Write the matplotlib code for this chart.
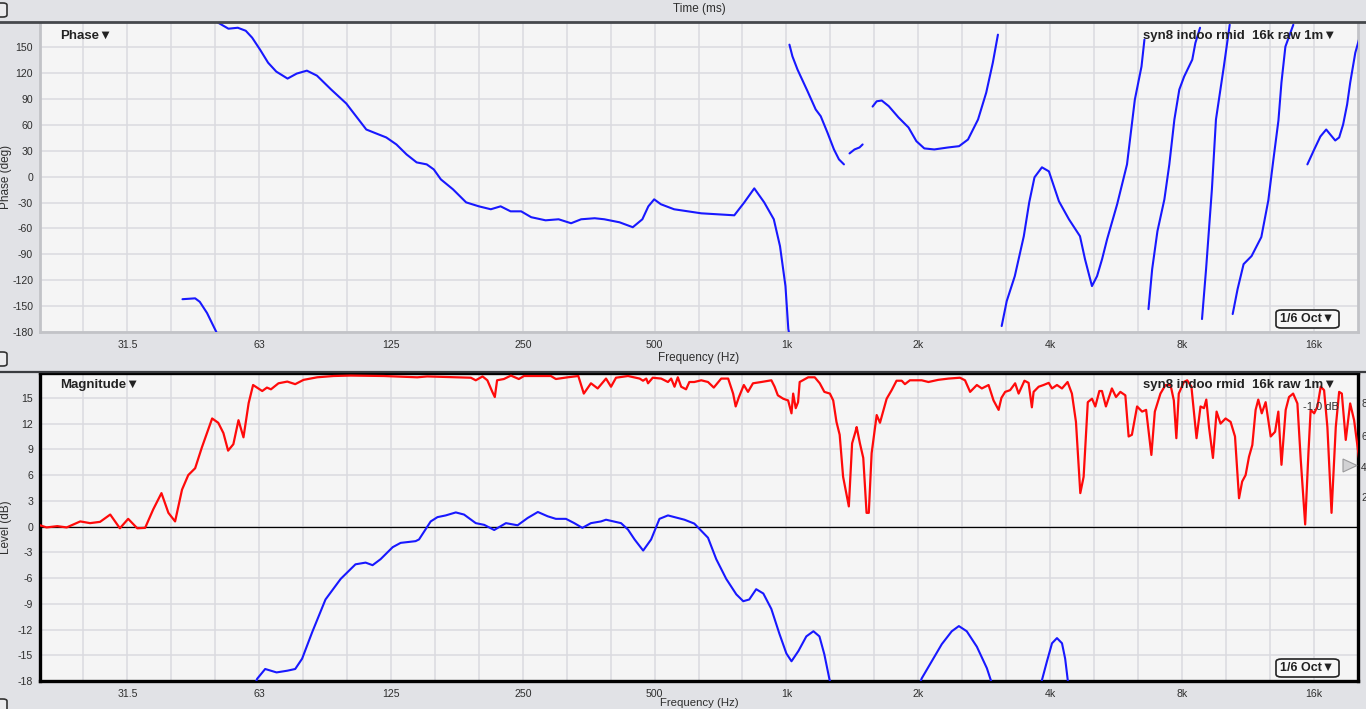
import numpy as np
import matplotlib
matplotlib.use("Agg")
import matplotlib.pyplot as plt
from matplotlib.patches import FancyBboxPatch, Polygon
from matplotlib.lines import Line2D

plt.rcParams['font.family'] = ['Liberation Sans', 'DejaVu Sans']

# ---------------- data ----------------
# Phase trace (deg), split into wrapped segments
phase_seg_freqs = [
    [42.2, 45.1, 46.2, 48.0, 49.4, 50.4],
    [50.5, 50.9, 53.7, 56.4, 58.8, 60.8, 63.4, 66.1, 69.0, 73.2, 76.8, 81.0, 85.4, 92.0,
     99.6, 102, 110.6, 116.5, 122.8, 129.5, 136.6, 144, 151.8, 157.5, 163.5, 174.2, 186.6,
     199.5, 212.4, 223.6, 235.6, 249, 262.5, 283, 303, 323.5, 341, 366, 385, 417, 447, 470,
     485, 500, 518, 555, 640, 761, 802, 845, 890, 936, 967, 995, 1010, 1013],
    [1016, 1032, 1060, 1117, 1166, 1197, 1240, 1283, 1317, 1352],
    [1392, 1429, 1467, 1491],
    [1571, 1605, 1648, 1710, 1800, 1896, 1976, 2060, 2170, 2333, 2472, 2590, 2730, 2850,
     2950, 3030],
    [3090, 3173, 3310, 3470, 3570, 3670, 3816, 3958, 4172, 4396, 4658, 4782, 4960, 5094,
     5230, 5370, 5660, 5960, 6210, 6430, 6530],
    [6670, 6800, 6990, 7250, 7440, 7640, 7840, 8040, 8390, 8530, 8740],
    [8830, 9020, 9300, 9500, 9900, 10210],
    [10370, 10640, 10980, 11450, 12050, 12500, 12830, 13180, 13390, 13670, 14250],
    [15340, 15900, 16420, 16930, 17290, 17750, 18120, 18500, 18890, 19200, 19720, 20250],
]
phase_seg_degs = [
    [-142, -141, -145, -158, -171, -180],
    [180, 178.3, 171.4, 172.5, 169, 161, 147, 132, 121.7, 113.6, 119.4, 122.8, 117, 100.9,
     84.7, 77.8, 54.6, 50, 45.4, 37.3, 25.7, 16.5, 14.2, 8.4, -3.2, -14.7, -29.8,
     -34.4, -37.8, -34.4, -40.2, -40.2, -47, -50.6, -49.4, -54, -49.4, -48.2, -49.4, -52.9,
     -58.6, -49.4, -34.4, -26.3, -32, -37.8, -42.5, -44.8, -29.8, -13.6, -29.8, -49.4,
     -80.6, -126.8, -176.5, -180],
    [152.9, 139.4, 124, 99, 77.8, 70, 51, 31.5, 20, 14.2],
    [26.9, 31.5, 33.8, 37.3],
    [81.2, 87.3, 88.2, 81.6, 68.5, 57, 41.1, 32.7, 31.5, 33.8, 35.3, 43, 66.2, 97.4, 132,
     164.5],
    [-173.1, -144.2, -115.3, -69, -29.8, -0.8, 10.8, 6.1, -28.6, -49.4, -69, -95.6, -126.8,
     -115.3, -95.6, -72.5, -32, 14.2, 89.3, 127.5, 158.7],
    [-153.5, -107.2, -63.3, -26.3, 14.2, 66.2, 100.9, 115.9, 135.5, 155, 172.5],
    [-165, -107.2, -14.7, 66.2, 127.5, 176],
    [-159.2, -130.3, -101.4, -92, -70, -27.5, 18.9, 65, 109, 150.6, 176],
    [14.2, 31.5, 46.5, 54.6, 48.9, 41.9, 45.4, 60.4, 83.5, 109, 143.6, 164.5],
]

# Magnitude, red trace (dB)
red_freq = [20.0, 20.7, 21.9, 23.0, 24.7, 26.0, 27.4, 28.9, 30.4, 31.75, 33.3, 34.7, 36.2,
            37.8, 39.2, 40.6, 42.1, 43.5, 45.1, 46.7, 49.3, 50.9, 52.3, 53.6, 55.1, 56.6,
            58.1, 59.7, 61.1, 64.1, 65.7, 67.1, 69.8, 73.1, 76.2, 79.6, 85.5, 93.1, 101.9,
            121.1, 144.5, 152.2, 191.3, 196.3, 203.4, 208.6, 214.1, 216.9, 219.5, 227.5,
            236, 246, 252.7, 291, 298.7, 317.8, 336, 345.8, 359, 371.9, 388.5, 398.8,
            409.4, 435.9, 463.4, 471.6, 479.7, 484.2, 496.3, 518.7, 537.5, 546.6, 556.3,
            566, 576, 591, 601.3, 617, 640, 663, 683.4, 710.5, 736.9, 756.3, 766.5, 779.7,
            800, 817.6, 839.2, 876.7, 924.2, 940, 956, 983.5, 1009, 1027, 1036, 1050, 1063,
            1072, 1121, 1160, 1191, 1220, 1256, 1278, 1300, 1322, 1346, 1387, 1411, 1436,
            1445, 1470, 1496, 1522, 1540, 1563, 1605, 1633, 1691, 1736, 1781, 1830, 1861,
            1910, 2032, 2105, 2215, 2338, 2483, 2550, 2619, 2713, 2785, 2885, 2961, 3041,
            3086, 3147, 3230, 3316, 3377, 3482, 3558, 3620, 3653, 3751, 3848, 3954, 4023,
            4129, 4239, 4365, 4465, 4561, 4666, 4748, 4853, 4961, 5048, 5156, 5227, 5336,
            5506, 5626, 5756, 5908, 6011, 6115, 6283, 6451, 6588, 6772, 6896, 7101, 7291,
            7488, 7618, 7719, 7818, 8030, 8170, 8353, 8580, 8762, 8922, 9031, 9160, 9351,
            9531, 9731, 9991, 10258, 10497, 10721, 10898, 11097, 11297, 11494, 11695, 11859,
            12077, 12325, 12657, 12950, 13173, 13392, 13691, 13932, 14236, 14558, 14815,
            15163, 15423, 15605, 15897, 16170, 16450, 16743, 17035, 17409, 17801, 18118,
            18374, 18757, 19195, 19596, 20130, 20302]
red_db = [0.15, -0.1, 0.05, -0.1, 0.6, 0.4, 0.55, 1.4, -0.2, 0.9, -0.2, -0.15, 2.0,
          3.9, 1.6, 0.6, 4.3, 6.0, 6.8, 9.2, 12.6, 12.1, 10.9, 8.85, 9.6, 12.4,
          10.4, 14.4, 16.5, 15.8, 16.2, 16.0, 16.7, 16.9, 16.6, 17.1, 17.4, 17.55, 17.6,
          17.55, 17.4, 17.5, 17.35, 17.05, 17.5, 17.05, 15.7, 15.1, 17.05, 17.2,
          17.6, 17.2, 17.55, 17.55, 17.2, 17.4, 17.55, 15.5, 16.7, 16.1, 17.25, 16.3,
          17.35, 17.55, 17.25, 17.0, 17.25, 16.7, 17.35, 17.25, 16.85, 17.25, 16.3,
          17.4, 16.3, 16.0, 16.85, 16.85, 17.05, 16.85, 16.2, 17.25, 17.25, 15.5, 14.0, 15.1,
          16.5, 15.7, 16.7, 16.85, 17.05, 16.3, 15.3, 14.9, 14.7, 13.2, 15.5, 13.8, 14.5,
          16.85, 17.4, 17.4, 16.7, 15.7, 15.5, 14.7, 12.2, 10.7, 5.8, 2.35, 9.7, 11.05,
          11.6, 9.7, 8.0, 1.6, 1.6, 8.55, 13.0, 12.1, 14.9, 15.9, 17.0, 17.0, 16.6,
          17.05, 17.05, 16.85, 17.1, 17.25, 17.35, 17.05, 15.7, 16.5, 16.1, 16.5, 14.7, 13.6,
          15.0, 15.7, 15.9, 16.7, 15.5, 17.0, 16.75, 13.9, 15.7, 16.3, 16.5, 16.75, 16.1,
          16.5, 16.1, 16.85, 15.5, 12.2, 3.9, 5.8, 14.5, 14.9, 14.0, 15.8, 15.8, 14.0,
          16.1, 15.1, 15.7, 15.3, 10.5, 10.7, 14.0, 13.4, 13.6, 8.35, 13.4, 15.5, 16.5,
          16.5, 14.7, 10.3, 15.5, 16.85, 17.05, 16.3, 10.3, 14.0, 13.8, 14.8, 11.6, 8.0,
          13.4, 12.0, 12.6, 12.2, 10.5, 3.3, 5.25, 6.0, 8.15, 9.5, 13.6, 14.8,
          13.2, 14.5, 10.5, 11.05, 13.4, 7.2, 13.6, 15.1, 15.5, 14.35, 7.8,
          0.25, 8.55, 13.6, 13.2, 14.0, 16.3, 15.9, 11.6, 1.6, 11.6, 15.7,
          15.5, 10.1, 14.35, 12.4, 7.8, 7.4]

# Magnitude, blue trace (dB), three visible pieces
blue_seg_freqs = [
    [61.5, 62.4, 65.1, 69.1, 73.1, 76.2, 79.0, 83.3, 89.3, 96.7, 104.5, 110.2, 114.3, 119.2,
     127, 132.4, 143.2, 145.8, 155, 160.6, 167.7, 176.8, 184.6, 196.3, 205.2, 216.2, 229.9,
     244.4, 257.6, 271.8, 286.1, 298.7, 314.9, 329, 343.2, 359, 378.4, 388.5, 420.3, 435.9,
     451.2, 472, 492.1, 514.1, 537.5, 586, 617, 663, 692.3, 729.5, 769, 797.5, 823, 853.5,
     886, 924, 964, 1000, 1027, 1065, 1110, 1152, 1189, 1220, 1253, 1273],
    [1990, 2032, 2142, 2258, 2379, 2469, 2573, 2713, 2859, 2967],
    [3776, 3816, 3918, 4023, 4129, 4239, 4310, 4369, 4387],
]
blue_seg_dbs = [
    [-18.7, -17.75, -16.6, -17.0, -16.8, -16.6, -15.4, -12.3, -8.5, -6.1, -4.4, -4.2, -4.5,
     -3.8, -2.4, -1.9, -1.7, -1.5, 0.6, 1.1, 1.3, 1.65, 1.4, 0.4, 0.2, -0.4, 0.4, 0.15, 1.0,
     1.7, 1.2, 0.9, 0.9, 0.4, -0.15, 0.4, 0.6, 0.8, 0.4, -0.35, -1.5, -2.8, -1.5, 0.9, 1.3,
     0.8, 0.35, -1.3, -3.8, -6.1, -7.9, -8.7, -8.5, -7.3, -7.8, -9.6, -12.5, -14.8, -15.7,
     -14.5, -12.8, -12.2, -12.8, -14.9, -17.8, -19],
    [-19, -17.7, -15.7, -13.7, -12.2, -11.6, -12.2, -14.0, -16.5, -19],
    [-19, -17.9, -15.7, -13.6, -13.0, -13.6, -15.4, -17.9, -19],
]

freq_tick_pos = [31.62, 63.1, 125.9, 251.2, 501.2, 1000, 1995, 3981, 7943, 15849]
freq_tick_labels = ['31.5', '63', '125', '250', '500', '1k', '2k', '4k', '8k', '16k']
phase_ticks = [-180, -150, -120, -90, -60, -30, 0, 30, 60, 90, 120, 150]
level_ticks = [-18, -15, -12, -9, -6, -3, 0, 3, 6, 9, 12, 15]

# ---------------- figure ----------------
W, H = 1366, 709
fig = plt.figure(figsize=(W / 100, H / 100), dpi=100, facecolor='#e1e2e6')

def px_axes(l, t, r, b):
    return fig.add_axes([l / W, 1 - b / H, (r - l) / W, (b - t) / H])

BG = '#f5f5f5'
GRID = '#dadadf'
TXT = '#2e2e2e'
BLUE = '#1818ff'
RED = '#ff0a0a'
grid_freqs = [10 ** (n / 10) for n in range(14, 43)]

def style(ax, yticks, ylim):
    ax.set_facecolor(BG)
    ax.set_xscale('log')
    ax.set_xlim(20, 20000)
    ax.set_ylim(*ylim)
    ax.set_yticks(yticks)
    ax.set_yticklabels([str(v) for v in yticks])
    ax.set_xticks(freq_tick_pos)
    ax.set_xticklabels(freq_tick_labels)
    ax.xaxis.set_minor_locator(matplotlib.ticker.NullLocator())
    ax.tick_params(axis='both', length=0, labelsize=7.6, colors=TXT)
    ax.tick_params(axis='y', pad=5)
    ax.tick_params(axis='x', pad=6)
    for g in grid_freqs:
        ax.axvline(g, color=GRID, lw=1.1, zorder=0.5)
    for y in yticks:
        ax.axhline(y, color=GRID, lw=1.1, zorder=0.5)

# ---- Phase panel ----
ax1 = px_axes(40, 23, 1358, 332)
style(ax1, phase_ticks, (-180, 178))
for fs, ds in zip(phase_seg_freqs, phase_seg_degs):
    ax1.plot(fs, ds, color=BLUE, lw=1.5, zorder=3, solid_capstyle='round')
for s in ['left', 'bottom', 'right']:
    ax1.spines[s].set_color('#c2c3c7')
    ax1.spines[s].set_linewidth(2)
ax1.spines['top'].set_visible(False)

# ---- Magnitude panel ----
ax2 = px_axes(40, 373, 1358, 681)
style(ax2, level_ticks, (-18, 17.9))
ax2.axhline(0, color='black', lw=0.9, zorder=2)
for fs, ds in zip(blue_seg_freqs, blue_seg_dbs):
    ax2.plot(fs, ds, color=BLUE, lw=1.5, zorder=3)
ax2.plot(red_freq, red_db, color=RED, lw=1.6, zorder=4)
for s in ax2.spines.values():
    s.set_color('black')
    s.set_linewidth(2.4)

# ---- header / separators ----
fig.add_artist(Line2D([0, 1], [1 - 22 / H, 1 - 22 / H], color='#45484c', lw=2))
fig.add_artist(Line2D([0, 1], [1 - 372 / H, 1 - 372 / H], color='#3a3c40', lw=1.6))
fig.text(699 / W, 1 - 9 / H, 'Time (ms)', ha='center', va='center', fontsize=8.5, color=TXT)
fig.text(699 / W, 1 - 358 / H, 'Frequency (Hz)', ha='center', va='center', fontsize=8.5, color=TXT)
fig.text(699 / W, 1 - 703.5 / H, 'Frequency (Hz)', ha='center', va='center', fontsize=8.2, color=TXT)
fig.text(6 / W, 1 - 177 / H, 'Phase (deg)', rotation=90, ha='center', va='center',
         fontsize=8.5, color=TXT)
fig.text(6 / W, 1 - 527 / H, 'Level (dB)', rotation=90, ha='center', va='center',
         fontsize=8.5, color=TXT)

# small window icons
for (x0, y0) in [(-6, 3), (-6, 352), (-6, 699)]:
    fig.add_artist(FancyBboxPatch((x0 / W, 1 - (y0 + 14) / H), 13 / W, 14 / H,
                                  boxstyle='round,pad=0,rounding_size=0.003',
                                  transform=fig.transFigure, fc='#ececee', ec='#333333', lw=1.2))

# panel titles
bold = dict(fontsize=9.5, fontweight='bold', color='#222222')
fig.text(60 / W, 1 - 36 / H, 'Phase\u25BC', ha='left', va='center', **bold)
fig.text(60 / W, 1 - 385 / H, 'Magnitude\u25BC', ha='left', va='center', **bold)
fig.text(1336 / W, 1 - 36 / H, 'syn8 indoo rmid  16k raw 1m\u25BC', ha='right', va='center', **bold)
fig.text(1336 / W, 1 - 385 / H, 'syn8 indoo rmid  16k raw 1m\u25BC', ha='right', va='center', **bold)

for yc in (319, 668):
    fig.add_artist(FancyBboxPatch((1276 / W, 1 - (yc + 9) / H), 63 / W, 18 / H,
                                  boxstyle='round,pad=0,rounding_size=0.004',
                                  transform=fig.transFigure, fc='#f8f8f8', ec='#222222',
                                  lw=1.2, zorder=10))
    fig.text(1307.5 / W, 1 - yc / H, '1/6 Oct\u25BC', ha='center', va='center', zorder=11,
             fontsize=9, fontweight='bold', color='#222222')

fig.text(1339 / W, 1 - 407 / H, '-1.0 dB', ha='right', va='center', fontsize=8, color=TXT)
for lab, yy in [('8', 404), ('6', 437), ('4', 468), ('2', 498)]:
    fig.text(1361 / W, 1 - yy / H, lab, ha='left', va='center', fontsize=7.3, color=TXT)
fig.add_artist(Polygon([[1343 / W, 1 - 459 / H], [1357 / W, 1 - 465.5 / H],
                        [1343 / W, 1 - 472 / H]], closed=True, transform=fig.transFigure,
                       fc='#d2d2d4', ec='#9a9a9c', lw=0.8, zorder=12))

fig.savefig('out.png', dpi=100, facecolor=fig.get_facecolor())
